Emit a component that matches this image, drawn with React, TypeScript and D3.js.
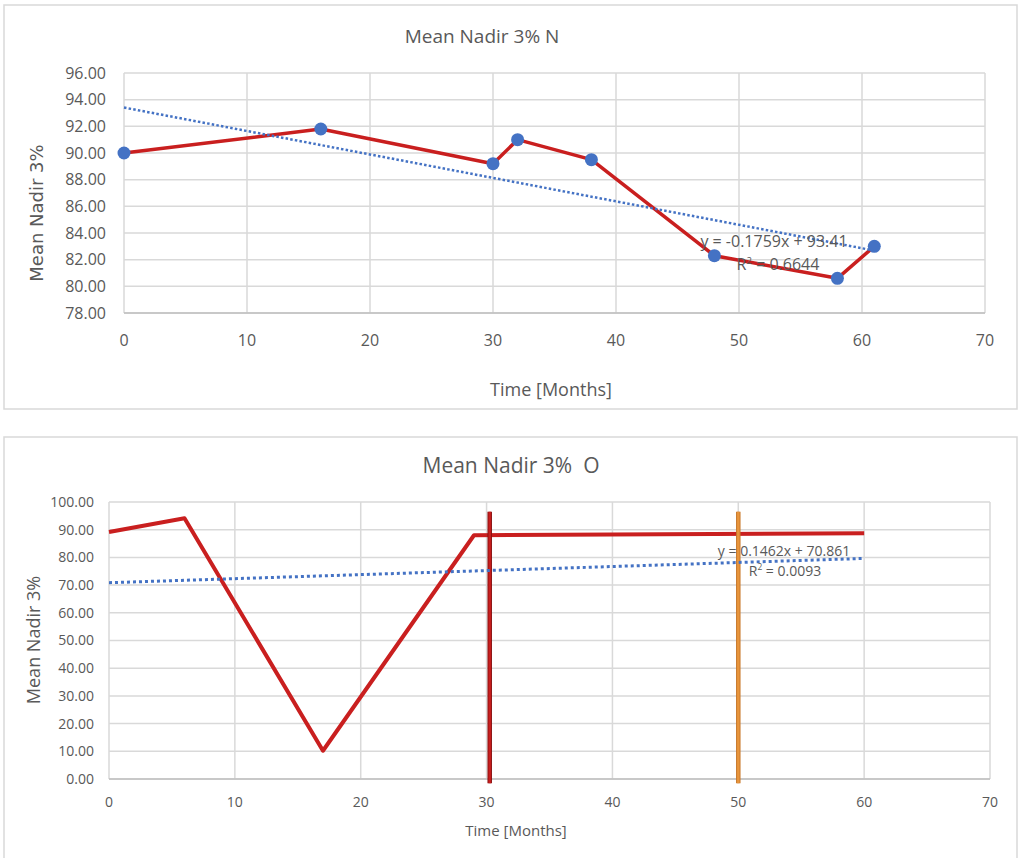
import React from "react";
import * as d3 from "d3";

// Panel N: mean nadir at 3% over time, with measured points
const monthsN = [0, 16, 30, 32, 38, 48, 58, 61];
const nadirN = [90.0, 91.8, 89.2, 91.0, 89.5, 82.3, 80.6, 83.0];
const trendN = { slope: -0.1759, intercept: 93.41, r2: 0.6644, from: 0, to: 61 };
const yTicksN = [78, 80, 82, 84, 86, 88, 90, 92, 94, 96];

// Panel O
const monthsO = [0, 6, 17, 29, 60];
const nadirO = [89.2, 94.1, 10.2, 88.0, 88.7];
const trendO = { slope: 0.1462, intercept: 70.861, r2: 0.0093, from: 0, to: 60 };
const yTicksO = [0, 10, 20, 30, 40, 50, 60, 70, 80, 90, 100];

// Reference months marked with vertical bars in panel O
const markerMonthsO = [30.25, 50];
const markerSpanO = [-1.5, 96.5];

const xTicks = [0, 10, 20, 30, 40, 50, 60, 70];

const TEXT = "#595959";
const GRID = "#d9d9d9";
const RED = "#c91f1f";
const BLUE = "#4472c4";
const FONT = "'Open Sans', sans-serif";

type PanelProps = {
  box: [number, number, number, number];
  xRange: [number, number];
  yRange: [number, number];
  yDomain: [number, number];
  yTicks: number[];
  months: number[];
  values: number[];
  trend: { slope: number; intercept: number; r2: number; from: number; to: number };
  title: string;
  titlePos: [number, number];
  titleSize: number;
  yLabelPos: [number, number];
  yLabelFont: string;
  yLabelSize: number;
  xLabelPos: [number, number];
  xLabelSize: number;
  tickSize: number;
  yTickX: number;
  xTickY: number;
  lineWidth: number;
  showMarkers: boolean;
  dot: { width: number; gap: number };
  eqPos: [number, number];
  r2Pos: [number, number];
  eqSize: number;
  eqText: string;
  r2Text: string;
  vMarkers?: { month: number; color: string; edge: string }[];
};

function Panel(p: PanelProps) {
  const x = d3.scaleLinear().domain([0, 70]).range(p.xRange);
  const y = d3.scaleLinear().domain(p.yDomain).range(p.yRange);
  const pts = p.months.map((m, i) => [m, p.values[i]] as [number, number]);
  const line = d3
    .line<[number, number]>()
    .x((d) => x(d[0]))
    .y((d) => y(d[1]));
  const tf = (m: number) => p.trend.slope * m + p.trend.intercept;
  const [bx, by, bw, bh] = p.box;
  return (
    <g fontFamily={FONT}>
      <rect x={bx} y={by} width={bw} height={bh} fill="#fff" stroke={GRID} strokeWidth={1.5} />
      <text
        x={p.titlePos[0]}
        y={p.titlePos[1]}
        textAnchor="middle"
        fontSize={p.titleSize}
        fill={TEXT}
        style={{ whiteSpace: "pre" }}
      >
        {p.title}
      </text>
      {/* gridlines */}
      {p.yTicks.map((t) => (
        <line key={"h" + t} x1={p.xRange[0]} x2={p.xRange[1]} y1={y(t)} y2={y(t)} stroke={GRID} strokeWidth={1.5} />
      ))}
      {xTicks.map((t) => (
        <line key={"v" + t} x1={x(t)} x2={x(t)} y1={p.yRange[0]} y2={p.yRange[1]} stroke={GRID} strokeWidth={1.5} />
      ))}
      <line x1={p.xRange[0]} x2={p.xRange[1]} y1={p.yRange[0]} y2={p.yRange[0]} stroke="#bfbfbf" strokeWidth={1.5} />
      {/* tick labels */}
      {p.yTicks.map((t) => (
        <text key={"yl" + t} x={p.yTickX} y={y(t)} dy="0.35em" textAnchor="end" fontSize={p.tickSize} fill={TEXT}>
          {t.toFixed(2)}
        </text>
      ))}
      {xTicks.map((t) => (
        <text key={"xl" + t} x={x(t)} y={p.xTickY} textAnchor="middle" fontSize={p.tickSize} fill={TEXT}>
          {t}
        </text>
      ))}
      <text
        transform={`translate(${p.yLabelPos[0]},${p.yLabelPos[1]}) rotate(-90)`}
        textAnchor="middle"
        fontSize={p.yLabelSize}
        fontFamily={p.yLabelFont}
        fill={TEXT}
      >
        Mean Nadir 3%
      </text>
      <text x={p.xLabelPos[0]} y={p.xLabelPos[1]} textAnchor="middle" fontSize={p.xLabelSize} fill={TEXT}>
        Time [Months]
      </text>
      {/* series */}
      <path d={line(pts) ?? ""} fill="none" stroke={RED} strokeWidth={p.lineWidth} strokeLinejoin="round" />
      {/* vertical reference bars */}
      {p.vMarkers?.map((v) => (
        <g key={"vm" + v.month}>
          <line
            x1={x(v.month)}
            x2={x(v.month)}
            y1={y(markerSpanO[0])}
            y2={y(markerSpanO[1])}
            stroke={v.edge}
            strokeWidth={4.5}
          />
          <line
            x1={x(v.month)}
            x2={x(v.month)}
            y1={y(markerSpanO[0])}
            y2={y(markerSpanO[1])}
            stroke={v.color}
            strokeWidth={2.5}
          />
        </g>
      ))}
      {/* linear trend */}
      <line
        x1={x(p.trend.from)}
        y1={y(tf(p.trend.from))}
        x2={x(p.trend.to)}
        y2={y(tf(p.trend.to))}
        stroke={BLUE}
        strokeWidth={p.dot.width}
        strokeDasharray={`${p.dot.width} ${p.dot.gap}`}
      />
      {p.showMarkers &&
        pts.map((d, i) => <circle key={"c" + i} cx={x(d[0])} cy={y(d[1])} r={6.5} fill={BLUE} />)}
      <text x={p.eqPos[0]} y={p.eqPos[1]} textAnchor="middle" fontSize={p.eqSize} fill={TEXT}>
        {p.eqText}
      </text>
      <text x={p.r2Pos[0]} y={p.r2Pos[1]} textAnchor="middle" fontSize={p.eqSize} fill={TEXT}>
        R
        <tspan fontSize={p.eqSize * 0.6} dy={-p.eqSize * 0.4}>
          2
        </tspan>
        <tspan dy={p.eqSize * 0.4}>{" = " + p.r2Text}</tspan>
      </text>
    </g>
  );
}

export default function App() {
  return (
    <svg width={1021} height={858} style={{ position: "absolute", left: 0, top: 0, background: "#fff" }}>
      <Panel
        box={[4, 5, 1013, 404]}
        xRange={[124, 985]}
        yRange={[313, 73]}
        yDomain={[78, 96]}
        yTicks={yTicksN}
        months={monthsN}
        values={nadirN}
        trend={trendN}
        title="Mean Nadir 3% N"
        titlePos={[482, 43]}
        titleSize={19}
        yLabelPos={[43, 213]}
        yLabelFont="'DejaVu Sans', sans-serif"
        yLabelSize={18}
        xLabelPos={[551, 396]}
        xLabelSize={18}
        tickSize={16}
        yTickX={106}
        xTickY={346}
        lineWidth={3.5}
        showMarkers={true}
        dot={{ width: 2.5, gap: 2.2 }}
        eqPos={[774, 247]}
        r2Pos={[778, 270]}
        eqSize={16}
        eqText={`y = ${trendN.slope}x + ${trendN.intercept}`}
        r2Text={trendN.r2.toFixed(4)}
      />
      <Panel
        box={[4, 437, 1013, 440]}
        xRange={[109, 990]}
        yRange={[779, 502]}
        yDomain={[0, 100]}
        yTicks={yTicksO}
        months={monthsO}
        values={nadirO}
        trend={trendO}
        title="Mean Nadir 3%  O"
        titlePos={[511, 473]}
        titleSize={21}
        yLabelPos={[40, 640]}
        yLabelFont={FONT}
        yLabelSize={18}
        xLabelPos={[516, 836]}
        xLabelSize={15}
        tickSize={14}
        yTickX={94}
        xTickY={807}
        lineWidth={4}
        showMarkers={false}
        dot={{ width: 3, gap: 3 }}
        eqPos={[784, 556]}
        r2Pos={[785, 576]}
        eqSize={14}
        eqText={`y = ${trendO.slope}x + ${trendO.intercept}`}
        r2Text={trendO.r2.toFixed(4)}
        vMarkers={[
          { month: markerMonthsO[0], color: "#c81e1e", edge: "#8a1010" },
          { month: markerMonthsO[1], color: "#e8953c", edge: "#c8782a" },
        ]}
      />
    </svg>
  );
}
